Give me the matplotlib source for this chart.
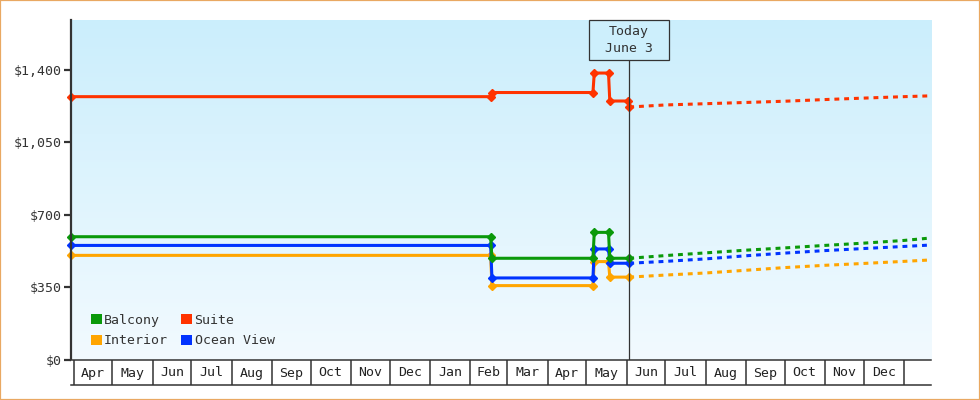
import datetime as dt
import numpy as np
import matplotlib
matplotlib.use("Agg")
import matplotlib.pyplot as plt
import matplotlib.transforms as mtransforms
from matplotlib.colors import LinearSegmentedColormap
from matplotlib.patches import Patch, Rectangle

D = dt.date

# ---------------- data ----------------
hist_dates = [D(2023, 3, 30), D(2024, 2, 17), D(2024, 2, 18), D(2024, 5, 6),
              D(2024, 5, 7), D(2024, 5, 18), D(2024, 5, 19), D(2024, 6, 3)]
balcony_hist = [595, 595, 491, 491, 616, 616, 491, 491]
oceanview_hist = [553, 553, 396, 396, 536, 536, 467, 467]
interior_hist = [505, 505, 359, 359, 475, 475, 400, 400]

suite_dates = [D(2023, 3, 30), D(2024, 2, 17), D(2024, 2, 18), D(2024, 5, 6),
               D(2024, 5, 7), D(2024, 5, 18), D(2024, 5, 19), D(2024, 6, 2),
               D(2024, 6, 3)]
suite_hist = [1271, 1271, 1291, 1291, 1385, 1385, 1250, 1250, 1221]

fc_dates = [D(2024, 6, 3), D(2024, 7, 1), D(2024, 8, 1), D(2024, 9, 1),
            D(2024, 10, 1), D(2024, 11, 1), D(2024, 12, 1), D(2025, 1, 1),
            D(2025, 1, 22)]
balcony_fc = [491, 504, 517, 530, 541, 553, 564, 577, 589]
oceanview_fc = [467, 476, 488, 503, 516, 528, 538, 548, 555]
interior_fc = [400, 410, 420, 433, 446, 457, 466, 476, 483]
suite_fc = [1221, 1231, 1237, 1243, 1249, 1257, 1264, 1271, 1275]

today = D(2024, 6, 3)
today_label = "Today\nJune 3"

x_start, x_end = D(2023, 3, 30), D(2025, 1, 22)
y_max = 1641
y_ticks = [0, 350, 700, 1050, 1400]

month_starts = [D(2023, m, 1) for m in range(4, 13)] + \
               [D(2024, m, 1) for m in range(1, 13)] + [D(2025, 1, 1)]
month_labels = ["Apr", "May", "Jun", "Jul", "Aug", "Sep", "Oct", "Nov", "Dec",
                "Jan", "Feb", "Mar", "Apr", "May", "Jun", "Jul", "Aug", "Sep",
                "Oct", "Nov", "Dec"]

C_BAL = "#0a990a"
C_SUI = "#ff3300"
C_INT = "#ffa500"
C_OCE = "#0033ff"
DARK = "#333333"
FONT = "DejaVu Sans Mono"
FS = 9.5

# ---------------- figure ----------------
fig = plt.figure(figsize=(9.8, 4.0), dpi=100)
ax = fig.add_axes([71 / 980, 1 - 360 / 400, 860 / 980, 340 / 400])
ax2 = fig.add_axes([71 / 980, 1 - 385 / 400, 860 / 980, 25 / 400], sharex=ax)

# gradient background
cmap = LinearSegmentedColormap.from_list("bg", ["#cbeefc", "#f2faff"])
ax.imshow(np.linspace(0, 1, 256).reshape(-1, 1), cmap=cmap, aspect="auto",
          extent=[0, 1, 0, 1], transform=ax.transAxes, zorder=0)

lw = 2.2
ms = 4.2
series = [
    (interior_hist, interior_fc, hist_dates, C_INT, 2),
    (oceanview_hist, oceanview_fc, hist_dates, C_OCE, 3),
    (balcony_hist, balcony_fc, hist_dates, C_BAL, 4),
    (suite_hist, suite_fc, suite_dates, C_SUI, 5),
]
for hist, fc, dates, col, z in series:
    ax.plot(fc_dates, fc, color=col, lw=lw, dashes=(1.6, 1.6), zorder=z,
            solid_capstyle="butt", dash_capstyle="butt")
    ax.plot(dates, hist, color=col, lw=lw, marker="D", ms=ms, mew=1.0,
            mec=col, mfc=col, zorder=z + 0.5, clip_on=False)

ax.set_xlim(x_start, x_end)
ax.set_ylim(0, y_max)

# today line and box
ax.axvline(today, color=DARK, lw=0.9, zorder=6)
blend = mtransforms.blended_transform_factory(ax.transData, ax.transAxes)
offs = mtransforms.ScaledTranslation(matplotlib.dates.date2num(today), 1.0, blend)
box = Rectangle((-0.40, -0.40), 0.80, 0.40, transform=fig.dpi_scale_trans + offs,
                facecolor="#cdeffc", edgecolor=DARK, lw=0.9, zorder=7, clip_on=False)
ax.add_patch(box)
ax.text(today, 1 - 20 / 340, today_label, transform=blend, ha="center", va="center",
        fontsize=FS, family=FONT, color=DARK, zorder=8, linespacing=1.3)

# y axis
for s in ["top", "right", "bottom"]:
    ax.spines[s].set_visible(False)
ax.spines["left"].set_color(DARK)
ax.spines["left"].set_linewidth(1.6)
ax.spines["left"].set_zorder(10)
ax.set_yticks(y_ticks)
ax.set_yticklabels([f"${v:,.0f}" for v in y_ticks], family=FONT, fontsize=FS,
                   color=DARK)
ax.tick_params(axis="y", length=5, width=1.6, color=DARK, pad=2)
ax.tick_params(axis="x", bottom=False, labelbottom=False)

# legend
handles = [Patch(facecolor=C_BAL, label="Balcony"),
           Patch(facecolor=C_INT, label="Interior"),
           Patch(facecolor=C_SUI, label="Suite"),
           Patch(facecolor=C_OCE, label="Ocean View")]
leg = ax.legend(handles=handles, ncol=2, loc="upper left",
                bbox_to_anchor=(20 / 860, 46 / 340), frameon=False,
                prop={"family": FONT, "size": FS}, handlelength=0.8,
                handleheight=0.8, handletextpad=0.2, columnspacing=1.0,
                labelspacing=0.55, borderpad=0, borderaxespad=0)
for t in leg.get_texts():
    t.set_color(DARK)

# month boxes
ax2.set_ylim(0, 1)
ax2.set_facecolor("white")
for s in ["left", "right"]:
    ax2.spines[s].set_visible(False)
for s in ["top", "bottom"]:
    ax2.spines[s].set_color(DARK)
    ax2.spines[s].set_linewidth(1.1)
ax2.tick_params(left=False, bottom=False, labelleft=False, labelbottom=False)
for m in month_starts:
    ax2.axvline(m, color=DARK, lw=1.1)
for i, lab in enumerate(month_labels):
    a = matplotlib.dates.date2num(month_starts[i])
    b = matplotlib.dates.date2num(month_starts[i + 1])
    ax2.text((a + b) / 2, 0.48, lab, ha="center", va="center", family=FONT,
             fontsize=FS, color="#222222")
ax2.set_xlim(x_start, x_end)

# outer border
fig.add_artist(Rectangle((0, 0), 1, 1, transform=fig.transFigure, fill=False,
                         edgecolor="#e9a862", lw=1.6))

fig.savefig("out.png", dpi=100)
